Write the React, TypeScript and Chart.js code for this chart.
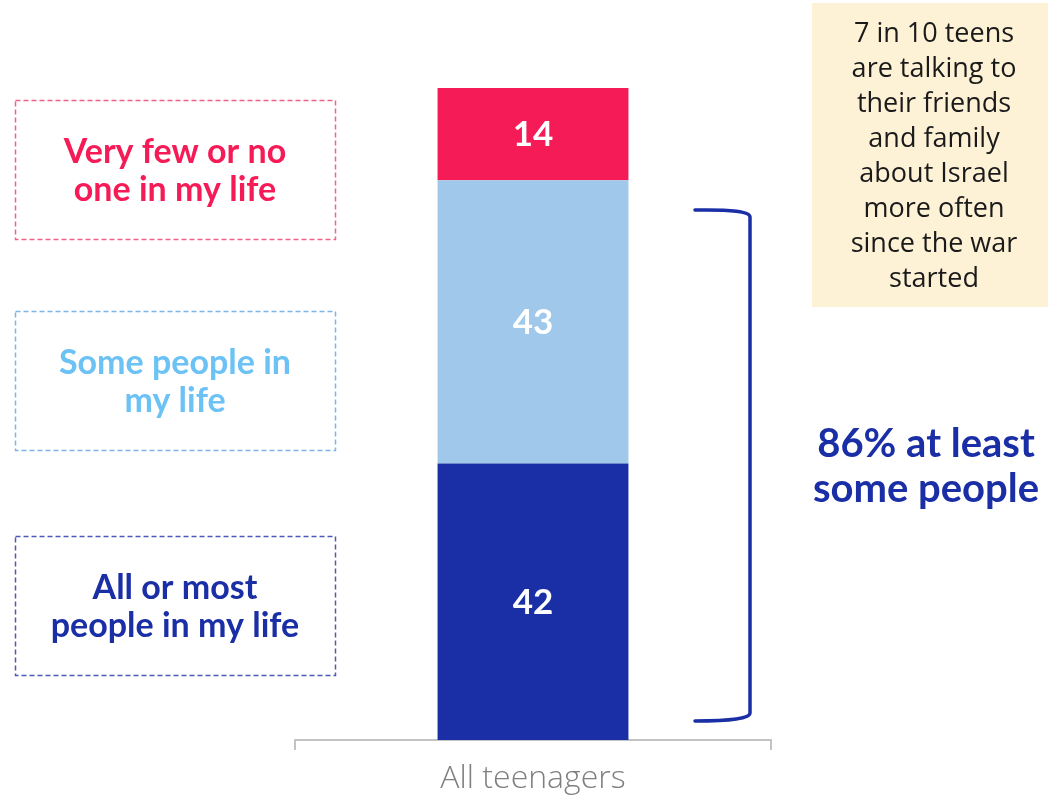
import React, { useEffect, useRef } from "react";
import { Chart, registerables } from "chart.js";

Chart.register(...registerables);

const categories = ["All teenagers"];
const seriesNames = ["All or most people in my life", "Some people in my life", "Very few or no one in my life"];
const allOrMost = [42];
const somePeople = [43];
const veryFew = [14];
const seriesColors = ["#1A2EA6", "#9FC8EA", "#F51B56"];
const noteLines = ["7 in 10 teens", "are talking to", "their friends", "and family", "about Israel", "more often", "since the war", "started"];
const braceLines = ["86% at least", "some people"];
const sideLabels = [
  { lines: ["Very few or no", "one in my life"], color: "#F51B56", border: "#F0628A", top: 100 },
  { lines: ["Some people in", "my life"], color: "#6CC1F5", border: "#7DB5E8", top: 311 },
  { lines: ["All or most", "people in my life"], color: "#1A2EA6", border: "#4A5AB8", top: 536 },
];

const annotations = {
  id: "annotations",
  afterDatasetsDraw(chart: any) {
    const ctx = chart.ctx;
    ctx.save();
    chart.data.datasets.forEach((ds: any, di: number) => {
      const meta = chart.getDatasetMeta(di);
      meta.data.forEach((bar: any, i: number) => {
        const p = bar.getProps(["x", "y", "base"], true);
        ctx.fillStyle = "#FFFFFF";
        ctx.font = "bold 35px Lato";
        ctx.textAlign = "center";
        ctx.textBaseline = "middle";
        ctx.fillText(String(ds.data[i]), p.x, (p.y + p.base) / 2 + 1);
      });
    });
    ctx.restore();
  },
  afterDraw(chart: any) {
    const ctx = chart.ctx;
    ctx.save();
    sideLabels.forEach((s) => {
      ctx.setLineDash([5, 3]);
      ctx.lineWidth = 1.5;
      ctx.strokeStyle = s.border;
      ctx.strokeRect(15.5, s.top + 0.5, 320, 139);
      ctx.setLineDash([]);
      ctx.fillStyle = s.color;
      ctx.font = "bold 34px Lato";
      ctx.textAlign = "center";
      ctx.textBaseline = "middle";
      const mid = s.top + 70;
      s.lines.forEach((ln, k) => {
        ctx.fillText(ln, 175, mid - 18 + k * 38);
      });
    });
    ctx.fillStyle = "#FDF1D6";
    ctx.fillRect(812, 3, 236, 304);
    ctx.fillStyle = "#1A1A1A";
    ctx.font = "27px 'Open Sans'";
    ctx.textAlign = "center";
    ctx.textBaseline = "middle";
    noteLines.forEach((ln, k) => {
      ctx.fillText(ln, 934, 34 + k * 35);
    });
    ctx.strokeStyle = "#1A2EA6";
    ctx.lineWidth = 3.5;
    ctx.lineCap = "round";
    ctx.beginPath();
    ctx.moveTo(695, 210);
    ctx.quadraticCurveTo(750, 209, 750, 217);
    ctx.lineTo(750, 713);
    ctx.quadraticCurveTo(750, 721, 695, 721);
    ctx.stroke();
    ctx.fillStyle = "#1A2EA6";
    ctx.font = "bold 40px Lato";
    braceLines.forEach((ln, k) => {
      ctx.fillText(ln, 926, 444 + k * 45);
    });
    ctx.restore();
  },
};

export default function App() {
  const ref = useRef<HTMLCanvasElement>(null);
  useEffect(() => {
    if (!ref.current) return;
    const chart = new Chart(ref.current, {
      type: "bar",
      data: {
        labels: categories,
        datasets: [
          { label: seriesNames[0], data: allOrMost, backgroundColor: seriesColors[0] },
          { label: seriesNames[1], data: somePeople, backgroundColor: seriesColors[1] },
          { label: seriesNames[2], data: veryFew, backgroundColor: seriesColors[2] },
        ],
      },
      options: {
        animation: false,
        responsive: true,
        maintainAspectRatio: false,
        layout: { padding: { left: 295, right: 277, top: 88, bottom: 0 } },
        plugins: { legend: { display: false }, tooltip: { enabled: false } },
        datasets: { bar: { categoryPercentage: 1, barPercentage: 0.401 } },
        scales: {
          x: {
            stacked: true,
            grid: { display: true, drawOnChartArea: false, color: "#C4C4C4", tickLength: 10, lineWidth: 2 },
            border: { display: true, color: "#C4C4C4", width: 2 },
            ticks: { color: "#7F7F7F", font: { family: "Open Sans", size: 32, weight: 300 }, padding: 10 },
            afterFit: (scale: any) => {
              scale.height = 58;
            },
          },
          y: { stacked: true, display: false, min: 0, max: 99 },
        },
      },
      plugins: [annotations],
    });
    return () => chart.destroy();
  }, []);
  return (
    <div style={{ position: "fixed", left: 0, top: 0, width: 1048, height: 798, background: "#FFFFFF" }}>
      <canvas ref={ref} />
    </div>
  );
}
